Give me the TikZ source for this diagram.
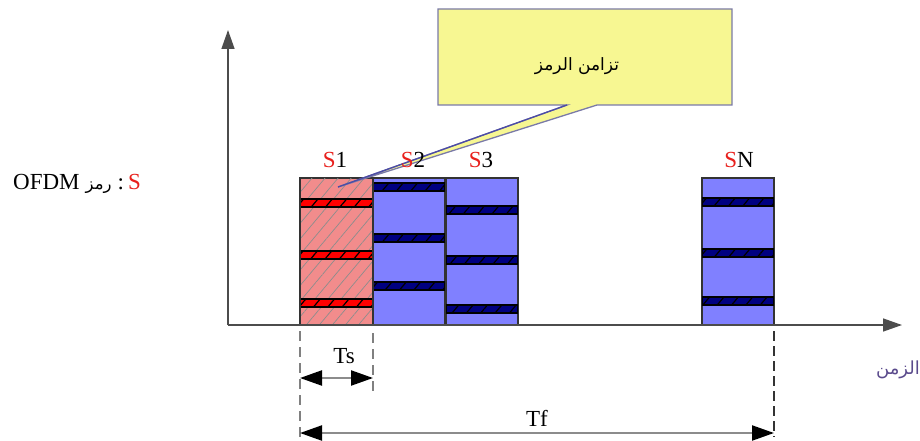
\documentclass[tikz,border=0pt]{standalone}
\usepackage{fontspec}
\setmainfont{Liberation Serif}
\newfontfamily\arabicfont[Script=Arabic]{DejaVu Sans}
\TeXXeTstate=1
\usetikzlibrary{arrows.meta,patterns.meta}
\definecolor{boxblue}{HTML}{8080FF}
\definecolor{boxred}{HTML}{F28C8C}
\definecolor{navy}{HTML}{000080}
\definecolor{sred}{HTML}{E8201C}
\definecolor{callyellow}{HTML}{F7F792}
\definecolor{callline}{HTML}{7A7AA8}
\definecolor{timepurple}{HTML}{5A4A8C}
\tikzset{
  symbox/.style={draw=black!80, line width=1.2pt, inner sep=0pt, minimum width=72pt, minimum height=147pt},
  slabel/.style={font=\fontsize{23}{26}\selectfont, inner sep=0pt},
  axisline/.style={draw=black!70, line width=1.4pt, -{Triangle[width=13pt,length=19pt]}},
  dimline/.style={draw=black!45, line width=2.2pt, {Triangle[width=15pt,length=22pt,black]}-{Triangle[width=15pt,length=22pt,black]}},
  gdash/.style={draw=black!50, line width=2.2pt, dash pattern=on 10pt off 6pt},
  bdash/.style={draw=black!80, line width=1.6pt, dash pattern=on 10pt off 5pt},
}
\newcommand{\stripe}[4]{% x1, x2, yc, colour
  \fill[#4] (#1,#3-4) rectangle (#2,#3+4);
  \fill[pattern={Lines[angle=50,distance=11pt,line width=1.2pt]}, pattern color=black] (#1,#3-4) rectangle (#2,#3+4);
  \draw[black, line width=1.2pt] (#1,#3-4) rectangle (#2,#3+4);
}
\begin{document}
\begin{tikzpicture}[x=1pt,y=-1pt]
\useasboundingbox (0,0) rectangle (920,441);

% axes
\coordinate (origin) at (228,325);
\coordinate (ytip) at (228,30);
\coordinate (xtip) at (902,325);

% symbol boxes
\node[symbox, fill=boxred] (s1) at (336.5,251.5) {};
\fill[pattern={Lines[angle=50,distance=10pt,line width=0.7pt]}, pattern color=black!45] (s1.south west) rectangle (s1.north east);
\node[symbox, fill=boxblue] (s2) at (409,251.5) {};
\node[symbox, fill=boxblue] (s3) at (482,251.5) {};
\node[symbox, fill=boxblue] (sn) at (738,251.5) {};

\stripe{300}{373}{203}{red}
\stripe{300}{373}{255}{red}
\stripe{300}{373}{303}{red}
\stripe{373}{445}{187}{navy}
\stripe{373}{445}{238}{navy}
\stripe{373}{445}{286}{navy}
\stripe{446}{518}{210}{navy}
\stripe{446}{518}{260}{navy}
\stripe{446}{518}{309}{navy}
\stripe{702}{774}{202}{navy}
\stripe{702}{774}{253}{navy}
\stripe{702}{774}{301}{navy}

\draw[black!80, line width=1.2pt] (s1.south west) rectangle (s1.north east);
\draw[black!80, line width=1.2pt] (s2.south west) rectangle (s2.north east);
\draw[black!80, line width=1.2pt] (s3.south west) rectangle (s3.north east);
\draw[black!80, line width=1.2pt] (sn.south west) rectangle (sn.north east);

\draw[axisline] (origin) -- (ytip);
\draw[axisline] (origin) -- (xtip);

% legend
\node[font=\fontsize{23}{26}\selectfont, anchor=east, inner sep=0pt] (legend) at (141,184)
  {OFDM\hspace{6pt}{\arabicfont\fontsize{16.5}{20}\selectfont\beginR رمز\endR}\hspace{6pt}:\hspace{4pt}\textcolor{sred}{S}};

% callout
\coordinate (tip) at (338,187);
\filldraw[fill=callyellow, draw=callline, line width=1.3pt]
  (438,9) -- (732,9) -- (732,105) -- (597,105) -- (tip) -- (567,105) -- (438,105) -- cycle;
\draw[navy!70, line width=1.3pt] (567,105) -- (tip);
\node[font=\arabicfont\fontsize{17}{20}\selectfont, inner sep=0pt] (sync) at (577,66) {\beginR تزامن الرمز\endR};

% symbol labels
\node[slabel] (l1) at (335,160) {\textcolor{sred}{S}1};
\node[slabel] (l2) at (413,160) {\textcolor{sred}{S}2};
\node[slabel] (l3) at (481,160) {\textcolor{sred}{S}3};
\node[slabel] (ln) at (739,160) {\textcolor{sred}{S}N};

% time label
\node[font=\arabicfont\fontsize{18}{22}\selectfont, text=timepurple, inner sep=0pt] (tlabel) at (898,370) {\beginR الزمن\endR};

% dashed guides
\coordinate (d1a) at (300,331);
\coordinate (d1b) at (300,437);
\coordinate (d2a) at (373,333);
\coordinate (d2b) at (373,395);
\coordinate (d3a) at (774,331);
\coordinate (d3b) at (774,437);
\draw[gdash] (d1a) -- (d1b);
\draw[gdash] (d2a) -- (d2b);
\draw[bdash] (d3a) -- (d3b);

% dimension arrows
\coordinate (tsl) at (300,378);
\coordinate (tsr) at (373,378);
\coordinate (tfl) at (300,433);
\coordinate (tfr) at (774,433);
\draw[dimline] (tsl) -- (tsr);
\draw[dimline] (tfl) -- (tfr);
\node[slabel] (ts) at (344,356) {Ts};
\node[slabel] (tf) at (537,418) {Tf};
\end{tikzpicture}
\end{document}
